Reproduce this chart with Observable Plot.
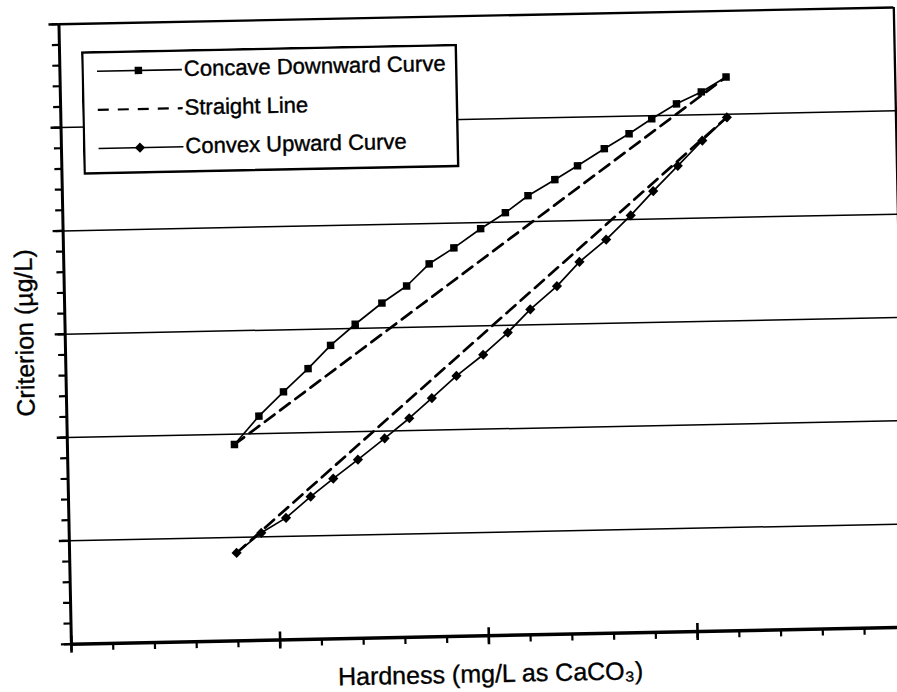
<!DOCTYPE html>
<html>
<head>
<meta charset="utf-8">
<script src="https://cdn.jsdelivr.net/npm/d3@7"></script>
<script src="https://cdn.jsdelivr.net/npm/@observablehq/plot@0.6"></script>
<style>
html, body { margin: 0; padding: 0; background: #fff; overflow: hidden; }
#wrap { position: relative; width: 897px; height: 692px; overflow: hidden; background: #fff; }
#stage { position: absolute; left: 0; top: 0; width: 905px; height: 692px;
         transform: rotate(-1.15deg); transform-origin: 448.5px 346px; }
#stage > svg.chart { position: absolute; left: 0; top: 0; }
</style>
</head>
<body>
<div id="wrap"><div id="stage"></div></div>
<script>
// ---- data ----
const hardness = [0.80, 0.92, 1.04, 1.16, 1.27, 1.39, 1.52, 1.64, 1.75, 1.87, 2.00,
                  2.12, 2.23, 2.36, 2.47, 2.60, 2.72, 2.83, 2.95, 3.07, 3.19];
const concaveY = [1.90, 2.17, 2.40, 2.62, 2.84, 3.04, 3.24, 3.40, 3.61, 3.76, 3.94,
                  4.09, 4.25, 4.40, 4.53, 4.69, 4.83, 4.97, 5.11, 5.22, 5.36];
const convexY  = [0.85, 1.04, 1.18, 1.38, 1.55, 1.73, 1.93, 2.12, 2.31, 2.52, 2.72,
                  2.93, 3.15, 3.37, 3.60, 3.81, 4.04, 4.27, 4.51, 4.75, 4.97];
const straightX = [0.80, 3.19, 0.80, 3.19];
const straightY = [1.90, 5.36, 0.85, 4.97];
const straightGroup = ["upper", "upper", "lower", "lower"];
const seriesNames = ["Concave Downward Curve", "Straight Line", "Convex Upward Curve"];
const xTitle = "Hardness (mg/L as CaCO₃)";
const yTitle = "Criterion (µg/L)";
const xMajorTicks = [0, 1, 2, 3, 4];
const yMajorTicks = [0, 1, 2, 3, 4, 5, 6];
const yGridLines = [1, 2, 3, 4, 5];
const xMinorTicks = d3.range(0, 4.001, 0.2);
const yMinorTicks = d3.range(0, 6.001, 0.2);

const concave = hardness.map((x, i) => ({x, y: concaveY[i]}));
const convex = hardness.map((x, i) => ({x, y: convexY[i]}));
const straight = straightX.map((x, i) => ({x, y: straightY[i], g: straightGroup[i]}));

const dash = "12,7";
const blank = () => "";
const rSquare = 4.2, rDiamond = 4.6;

const chart = Plot.plot({
  width: 905,
  height: 692,
  marginLeft: 65,
  marginRight: 5,
  marginTop: 16,
  marginBottom: 56,
  className: "chart",
  x: {domain: [0, 4], label: null},
  y: {domain: [0, 6], label: null},
  style: {fontFamily: "'Liberation Sans', Arial, sans-serif", background: "white", color: "black"},
  marks: [
    Plot.ruleY(yGridLines, {stroke: "black", strokeWidth: 1.5}),
    Plot.ruleY([6], {stroke: "black", strokeWidth: 2.3}),
    Plot.ruleX([4], {stroke: "black", strokeWidth: 2.3}),
    Plot.axisY(yMinorTicks, {anchor: "left", label: null, tickSize: 7, strokeWidth: 2.2, tickFormat: blank}),
    Plot.axisY(yMajorTicks, {anchor: "left", label: null, tickSize: 10, strokeWidth: 2.4, tickFormat: blank}),
    Plot.axisX(xMinorTicks, {anchor: "bottom", label: null, tickSize: 7, strokeWidth: 2.2, tickFormat: blank}),
    Plot.axisX(xMajorTicks, {anchor: "bottom", label: null, tickSize: 17, dy: -8, strokeWidth: 2.6, tickFormat: blank}),
    Plot.ruleX([0], {stroke: "black", strokeWidth: 3}),
    Plot.ruleY([0], {stroke: "black", strokeWidth: 3.5}),
    Plot.line(straight, {x: "x", y: "y", z: "g", stroke: "black", strokeWidth: 2.7, strokeDasharray: dash}),
    Plot.line(concave, {x: "x", y: "y", stroke: "black", strokeWidth: 1.7}),
    Plot.dot(concave, {x: "x", y: "y", symbol: "square", r: rSquare, fill: "black"}),
    Plot.line(convex, {x: "x", y: "y", stroke: "black", strokeWidth: 1.7}),
    Plot.dot(convex, {x: "x", y: "y", symbol: "diamond2", r: rDiamond, fill: "black"}),
    Plot.text([xTitle], {text: d => d, frameAnchor: "bottom", dx: 1, dy: 46.5, lineAnchor: "bottom",
      textAnchor: "middle", fontSize: 25, fill: "black", stroke: "black", strokeWidth: 0.35}),
    Plot.text([yTitle], {text: d => d, frameAnchor: "left", rotate: -90, dx: -32, dy: -2, lineAnchor: "bottom",
      textAnchor: "middle", fontSize: 25, fill: "black", stroke: "black", strokeWidth: 0.35})
  ]
});
chart.classList.add("chart");
document.getElementById("stage").appendChild(chart);

// ---- legend (box drawn over the plot, as in the reference) ----
const lg = d3.select("#stage").append("svg")
  .attr("id", "legend").attr("width", 377).attr("height", 124)
  .style("position", "absolute").style("left", "87px").style("top", "44px")
  .style("font-family", "'Liberation Sans', Arial, sans-serif");
lg.append("rect").attr("x", 1.2).attr("y", 1.2).attr("width", 373.6).attr("height", 121)
  .attr("fill", "white").attr("stroke", "black").attr("stroke-width", 2.4);
const symSquare = d3.symbol(d3.symbolSquare, Math.PI * rSquare * rSquare)();
const symDiamond = d3.symbol(d3.symbolDiamond2, Math.PI * rDiamond * rDiamond)();
seriesNames.forEach((name, i) => {
  const base = 26.8 + i * 38.6;
  const ly = base - 6.5;
  const g = lg.append("g");
  g.append("line").attr("x1", 15.6).attr("x2", 100.5).attr("y1", ly).attr("y2", ly)
    .attr("stroke", "black")
    .attr("stroke-width", i === 1 ? 2.2 : 1.6)
    .attr("stroke-dasharray", i === 1 ? "11,9" : null);
  if (i !== 1) {
    g.append("path").attr("d", i === 0 ? symSquare : symDiamond)
      .attr("transform", `translate(57,${ly})`).attr("fill", "black");
  }
  g.append("text").attr("x", 102.5).attr("y", base).attr("font-size", 22)
    .attr("fill", "black").attr("stroke", "black").attr("stroke-width", 0.4).text(name);
});
</script>
</body>
</html>
